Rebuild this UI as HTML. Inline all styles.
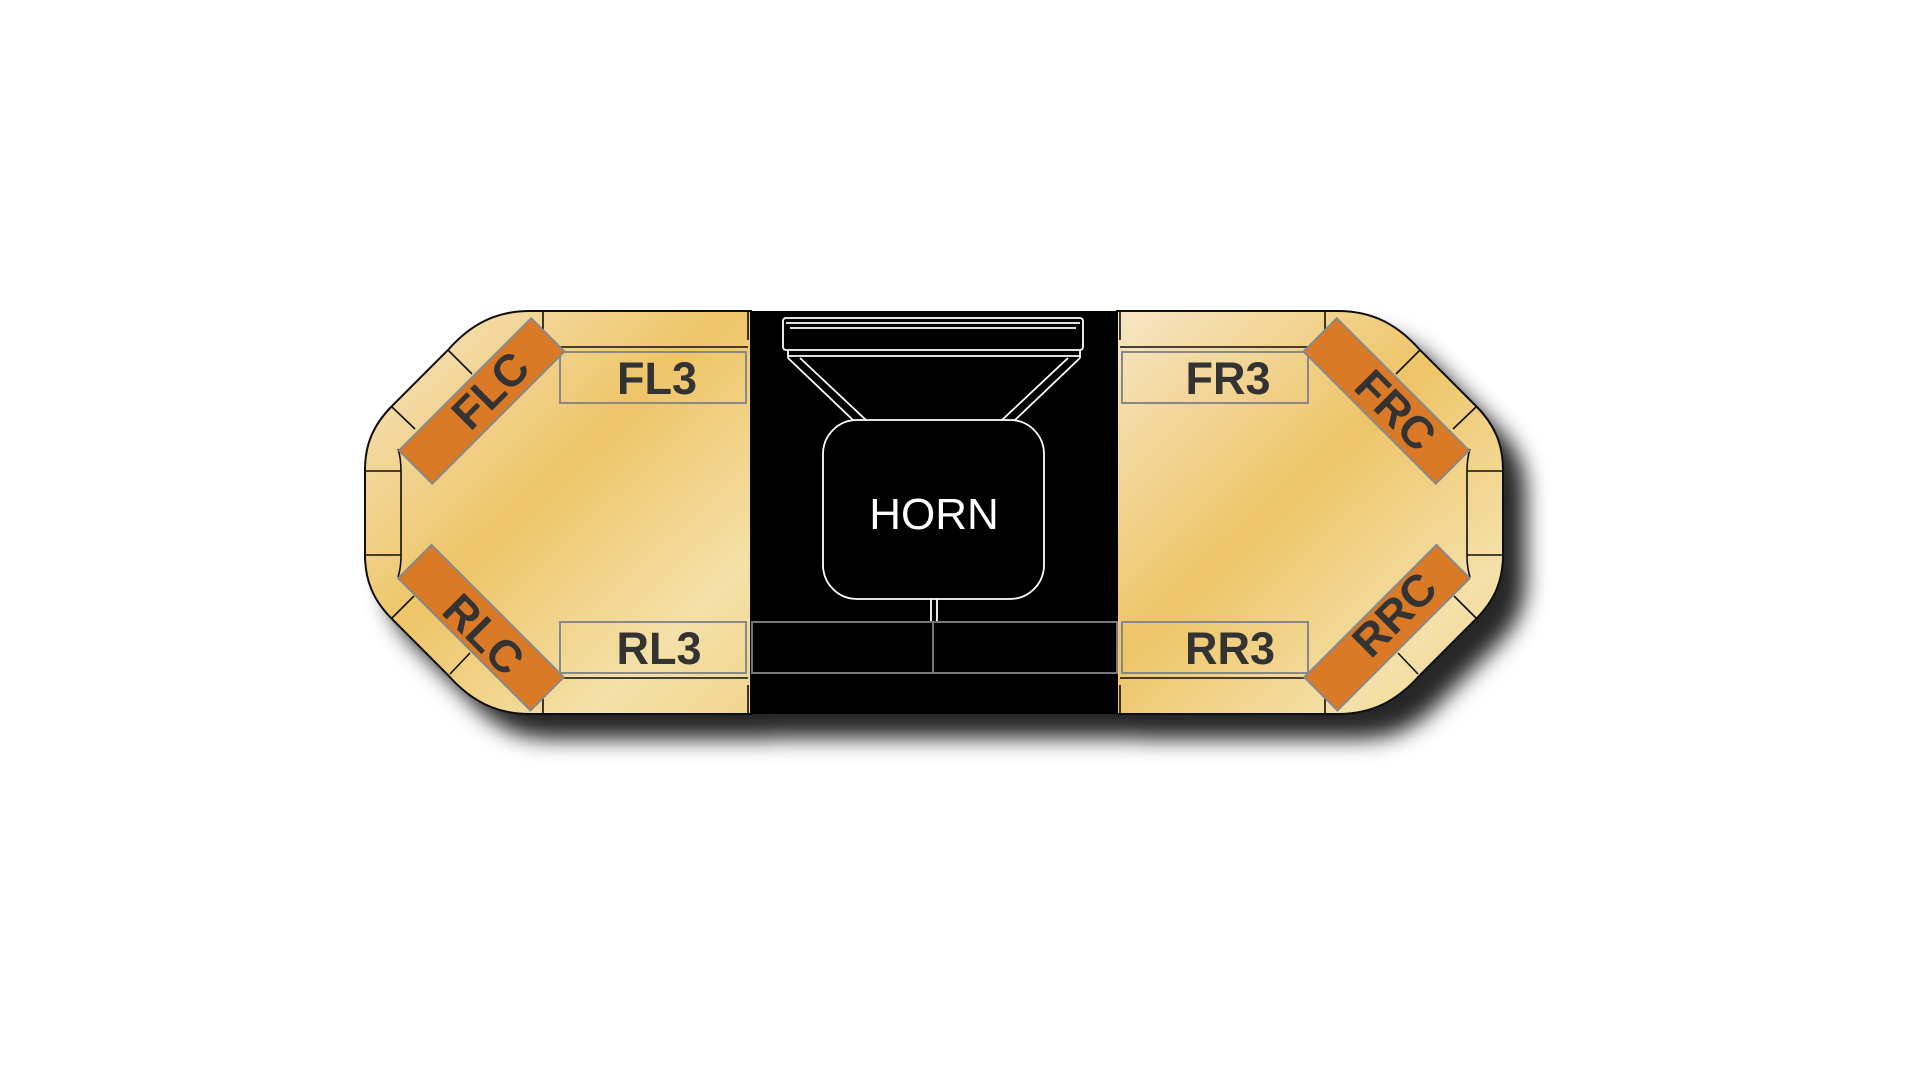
<!DOCTYPE html>
<html><head><meta charset="utf-8"><style>
html,body{margin:0;padding:0;background:#fff;width:1920px;height:1080px;overflow:hidden}
svg{display:block}
text{font-family:"Liberation Sans",Arial,sans-serif;font-weight:bold;fill:#333}
</style></head><body>
<svg width="1920" height="1080" viewBox="0 0 1920 1080" xmlns="http://www.w3.org/2000/svg">
<defs>
<linearGradient id="gl" x1="365" y1="311" x2="751" y2="714" gradientUnits="userSpaceOnUse">
<stop offset="0" stop-color="#f6e6c4"/><stop offset="0.45" stop-color="#eec568"/><stop offset="0.8" stop-color="#f4e0a8"/><stop offset="1" stop-color="#f0d58c"/>
</linearGradient>
<linearGradient id="gr" x1="751" y1="311" x2="365" y2="714" gradientUnits="userSpaceOnUse">
<stop offset="0" stop-color="#f6e6c4"/><stop offset="0.45" stop-color="#eec568"/><stop offset="0.8" stop-color="#f4e0a8"/><stop offset="1" stop-color="#f0d58c"/>
</linearGradient>
<filter id="sh" x="-10%" y="-10%" width="130%" height="140%">
<feDropShadow dx="22" dy="24" stdDeviation="11" flood-color="#000" flood-opacity="0.85"/>
</filter>
<g id="half">
<path d="M751,311 L530,311 C495,311 470,325 448,350 L392,406 C373,425 365,445 365,470 L365,555 C365,580 373,600 392,619 L448,675 C470,700 495,714 530,714 L751,714 Z" stroke="#111" stroke-width="2"/>
<path d="M543,311 L543,347 M550,347 L748,347 M543,678 L543,714 M550,678 L748,678 M448,350 L472,374 M392,407 L415,429 M365,471 L401,471 M365,555 L401,555 M392,618 L414,596 M450,674 L470,653 M398,449 Q401,458 401,472 L401,555 Q401,568 398,577 M748,311 L748,340 M748,685 L748,714" fill="none" stroke="#111" stroke-width="1.6"/>
<rect x="560" y="352" width="186" height="51" fill="none" stroke="#888" stroke-width="2"/>
<rect x="560" y="622" width="186" height="51" fill="none" stroke="#888" stroke-width="2"/>
<rect x="388" y="378" width="187" height="47" fill="#db7a25" stroke="#888" stroke-width="2" transform="rotate(-45 481 401)"/>
<rect x="388" y="604" width="187" height="47" fill="#db7a25" stroke="#888" stroke-width="2" transform="rotate(45 481 627)"/>
</g>
</defs>
<g filter="url(#sh)">
<use href="#half" fill="url(#gl)"/>
<use href="#half" fill="url(#gr)" transform="translate(1868,0) scale(-1,1)"/>
<rect x="751" y="311" width="367" height="403" fill="#000"/>
</g>
<g fill="none" stroke="#fff" stroke-width="1.8">
<rect x="783" y="318" width="300" height="32" rx="3"/>
<line x1="786" y1="323" x2="1080" y2="323"/>
<line x1="790" y1="328" x2="1076" y2="328"/>
<line x1="788" y1="350" x2="788" y2="358"/><line x1="1080" y1="350" x2="1080" y2="358"/>
<line x1="788" y1="356" x2="1080" y2="356"/>
<path d="M788,358 L853,420 M800,358 L866,420 M1080,358 L1015,420 M1068,358 L1002,420"/>
<rect x="823" y="420" width="221" height="179" rx="34"/>
<line x1="931" y1="599" x2="931" y2="622"/><line x1="937" y1="599" x2="937" y2="622"/>
</g>
<g fill="none" stroke="#777" stroke-width="2">
<rect x="752" y="622" width="181" height="51"/><rect x="933" y="622" width="184" height="51"/>
</g>
<text x="934" y="529" text-anchor="middle" font-size="44" style="font-weight:normal;fill:#fff">HORN</text>
<text x="657" y="394" text-anchor="middle" font-size="45">FL3</text>
<text x="659" y="664" text-anchor="middle" font-size="45">RL3</text>
<text x="1228" y="394" text-anchor="middle" font-size="45">FR3</text>
<text x="1230" y="664" text-anchor="middle" font-size="45">RR3</text>
<text x="0" y="16" text-anchor="middle" font-size="45" transform="translate(490,390) rotate(-45)">FLC</text>
<text x="0" y="16" text-anchor="middle" font-size="45" transform="translate(484,634) rotate(45)">RLC</text>
<text x="0" y="16" text-anchor="middle" font-size="45" transform="translate(1396,410) rotate(45)">FRC</text>
<text x="0" y="16" text-anchor="middle" font-size="45" transform="translate(1394,614) rotate(-45)">RRC</text>
</svg>
</body></html>
